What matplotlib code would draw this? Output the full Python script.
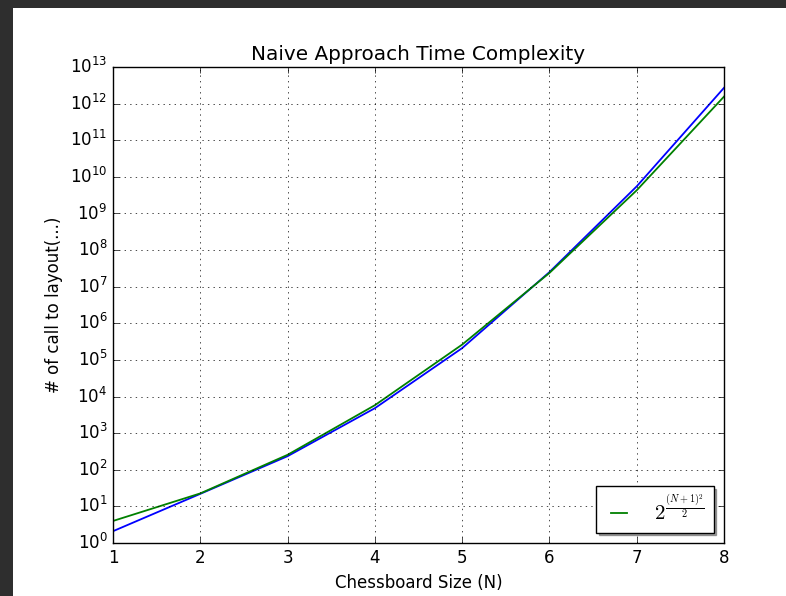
import matplotlib
matplotlib.use("Agg")
import matplotlib.pyplot as plt
from matplotlib.patches import Rectangle

plt.style.use("classic")
plt.rcParams["mathtext.fontset"] = "cm"

N = [1, 2, 3, 4, 5, 6, 7, 8]
calls = [2.1, 22, 235, 4800, 2.1e5, 2.5e7, 5.5e9, 2.7e12]
bound = [2 ** ((n + 1) ** 2 / 2) for n in N]
yticks = [10 ** k for k in range(14)]

fig = plt.figure(figsize=(7.86, 5.96), dpi=100, facecolor="#2e2e2e")
fig.patches.append(Rectangle((13 / 786, 0), 1, 1 - 8 / 596, transform=fig.transFigure,
                             facecolor="white", edgecolor="none", zorder=-10))
ax = fig.add_axes([113 / 786, 1 - 543 / 596, 611 / 786, 476 / 596])
ax.plot(N, calls, color="b", lw=1.3)
ax.plot(N, bound, color="g", lw=1.3, label=r"$2^{\frac{(N+1)^2}{2}}$")
ax.set_yscale("log")
ax.set_xlim(1, 8)
ax.set_ylim(1, 1e13)
ax.set_yticks(yticks)
ax.set_xticks(N)
ax.grid(True)
ax.set_title("Naive Approach Time Complexity", fontsize=14.4)
ax.set_xlabel("Chessboard Size (N)", fontsize=12)
ax.set_ylabel("# of call to layout(...)", fontsize=12)
ax.tick_params(labelsize=12)
ax.legend(loc="lower right", shadow=True, prop={"size": 15},
          handlelength=1.4, handletextpad=1.0)
fig.savefig("out.png", dpi=100, facecolor=fig.get_facecolor())
